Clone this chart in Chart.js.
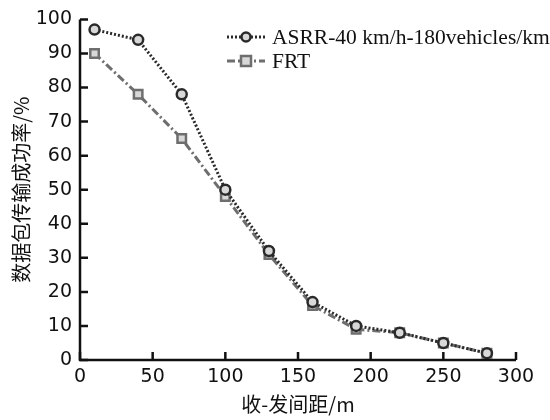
<!DOCTYPE html>
<html>
<head>
<meta charset="utf-8">
<script src="https://cdn.jsdelivr.net/npm/chart.js@4"></script>
<style>
  html, body { margin: 0; padding: 0; background: #fff; }
  #wrap { width: 550px; height: 420px; }
</style>
</head>
<body>
<div id="wrap"><canvas id="myChart"></canvas></div>
<script>
const distances = [10, 40, 70, 100, 130, 160, 190, 220, 250, 280];
const asrrValues = [97, 94, 78, 50, 32, 17, 10, 8, 5, 2];
const frtValues = [90, 78, 65, 48, 31, 16, 9, 8, 5, 2];
const seriesNames = ['ASRR-40 km/h-180vehicles/km', 'FRT'];
const xTitle = '收-发间距/m';
const yTitle = '数据包传输成功率/%';

const tickFont = { family: 'DejaVu Sans', size: 19 };
const cjkFont = { family: 'Noto Sans CJK SC', size: 20 };

const toPoints = (vals) => distances.map((d, i) => ({x: d, y: vals[i]}));

// ticks drawn inward + the legend with line samples
const inwardTicks = {
    id: 'inwardTicks',
    afterDraw(chart) {
        const ctx = chart.ctx;
        const xs = chart.scales.x;
        const ys = chart.scales.y;
        const area = chart.chartArea;
        ctx.save();
        ctx.strokeStyle = '#111';
        ctx.lineWidth = 2.5;
        ctx.beginPath();
        ctx.moveTo(area.left, area.top);
        ctx.lineTo(area.left, area.bottom);
        ctx.lineTo(area.right, area.bottom);
        ctx.stroke();
        ctx.beginPath();
        xs.ticks.forEach(t => {
            const px = xs.getPixelForValue(t.value);
            ctx.moveTo(px, area.bottom);
            ctx.lineTo(px, area.bottom - 8);
        });
        ys.ticks.forEach(t => {
            const py = ys.getPixelForValue(t.value);
            ctx.moveTo(area.left, py);
            ctx.lineTo(area.left + 8, py);
        });
        ctx.stroke();

        // legend
        const items = chart.data.datasets;
        items.forEach((ds, i) => {
            const y = 37 + i * 24;
            const x0 = 227;
            ctx.strokeStyle = ds.borderColor;
            ctx.lineWidth = ds.borderWidth;
            ctx.setLineDash(ds.borderDash);
            ctx.beginPath();
            ctx.moveTo(x0, y);
            ctx.lineTo(x0 + 38, y);
            ctx.stroke();
            ctx.setLineDash([]);
            ctx.fillStyle = ds.pointBackgroundColor;
            ctx.strokeStyle = ds.pointBorderColor;
            ctx.lineWidth = ds.pointBorderWidth;
            ctx.beginPath();
            if (ds.pointStyle === 'rect') {
                ctx.rect(x0 + 19 - 5, y - 5, 10, 10);
            } else {
                ctx.arc(x0 + 19, y, 4.5, 0, Math.PI * 2);
            }
            ctx.fill();
            ctx.stroke();
            ctx.fillStyle = '#111';
            ctx.font = '21.5px "Liberation Serif"';
            ctx.textBaseline = 'middle';
            ctx.fillText(ds.label, x0 + 45, y + 1);
        });
        ctx.restore();
    }
};

new Chart(document.getElementById('myChart'), {
    type: 'scatter',
    data: {
        datasets: [
            {
                label: seriesNames[0],
                data: toPoints(asrrValues),
                showLine: true,
                borderColor: '#2a2a2a',
                borderWidth: 3,
                borderDash: [2, 2],
                pointStyle: 'circle',
                pointRadius: 5,
                pointBorderWidth: 2.5,
                pointBorderColor: '#2a2a2a',
                pointBackgroundColor: '#d8d8d8'
            },
            {
                label: seriesNames[1],
                data: toPoints(frtValues),
                showLine: true,
                borderColor: '#6e6e6e',
                borderWidth: 3,
                borderDash: [8, 3, 2, 3],
                pointStyle: 'rect',
                pointRadius: 6,
                pointBorderWidth: 2.5,
                pointBorderColor: '#6e6e6e',
                pointBackgroundColor: '#d8d8d8'
            }
        ]
    },
    options: {
        responsive: true,
        maintainAspectRatio: false,
        animation: false,
        layout: { padding: { top: 16, right: 34, left: 0, bottom: 0 } },
        plugins: {
            legend: { display: false },
            tooltip: { enabled: false }
        },
        scales: {
            x: {
                type: 'linear',
                min: 0,
                max: 300,
                ticks: { stepSize: 50, color: '#111', font: tickFont, padding: 6 },
                grid: { display: false, drawTicks: false },
                border: { display: false },
                title: { display: true, text: xTitle, color: '#111', font: cjkFont, padding: { top: 0, bottom: 4 } },
                afterFit: (s) => { s.height = 60; }
            },
            y: {
                min: 0,
                max: 100,
                ticks: { stepSize: 10, color: '#111', font: tickFont, padding: 8 },
                grid: { display: false, drawTicks: false },
                border: { display: false },
                title: { display: true, text: yTitle, color: '#111', font: cjkFont, padding: { top: 9, bottom: 4 } },
                afterFit: (s) => { s.width = 80; }
            }
        }
    },
    plugins: [inwardTicks]
});
</script>
</body>
</html>
